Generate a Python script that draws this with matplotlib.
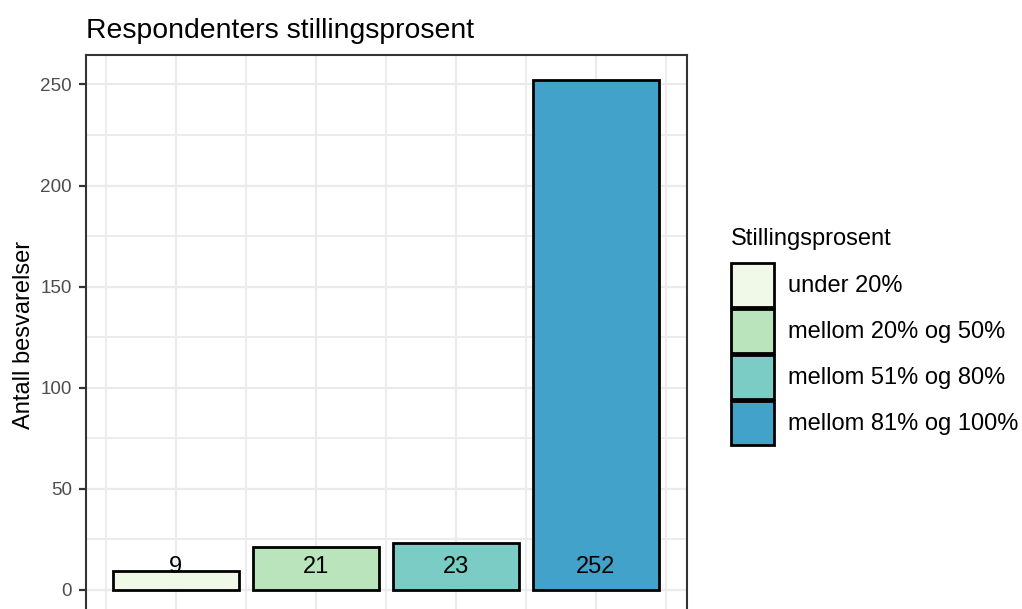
import numpy as np
import matplotlib.pyplot as plt
from matplotlib.ticker import MultipleLocator

categories = ["under 20%", "mellom 20% og 50%", "mellom 51% og 80%", "mellom 81% og 100%"]
counts = [9, 21, 23, 252]
colors = ["#F0F9E8", "#BAE4BC", "#7BCCC4", "#43A2CA"]

plt.rcParams['font.family'] = ['Liberation Sans', 'DejaVu Sans']

fig = plt.figure(figsize=(10.22, 6.09), dpi=100)
ax = fig.add_axes([0.0841, -0.0099, 0.5881, 0.9196])

x = np.arange(1, len(counts) + 1)
bars = ax.bar(x, counts, width=0.9, color=colors, edgecolor='black', linewidth=2.0,
              label=categories, zorder=3)
for xi, c in zip(x, counts):
    ax.text(xi, 11, str(c), ha='center', va='center', fontsize=17, color='black', zorder=4)

ax.set_xlim(0.36, 4.65)
ax.set_ylim(-12.6, 264.6)
ax.yaxis.set_major_locator(MultipleLocator(50))
ax.yaxis.set_minor_locator(MultipleLocator(25))
ax.set_xticks(x)
ax.set_xticks(list(x - 0.5) + [4.5], minor=True)
ax.grid(True, which='major', color='#EBEBEB', linewidth=1.6, zorder=0)
ax.grid(True, which='minor', color='#EBEBEB', linewidth=1.3, zorder=0)
ax.set_axisbelow(True)
ax.tick_params(axis='y', which='major', length=5, width=1.6, color='#333333',
               labelsize=13.6, labelcolor='#4D4D4D', pad=5)
ax.tick_params(axis='both', which='minor', length=0)
ax.tick_params(axis='x', which='major', length=0, labelbottom=False)
for s in ax.spines.values():
    s.set_color('#333333')
    s.set_linewidth(1.5)

ax.set_ylabel('Antall besvarelser', fontsize=17, labelpad=4)
ax.set_title('Respondenters stillingsprosent', loc='left', fontsize=20.4, pad=12)

leg = fig.legend(handles=list(bars), labels=categories, title='Stillingsprosent',
                 loc='upper left', bbox_to_anchor=(0.715, 0.625), frameon=False,
                 fontsize=17, title_fontsize=17, handlelength=1.82, handleheight=2.49,
                 labelspacing=0.08, handletextpad=0.6, borderaxespad=0, borderpad=0)
leg._legend_box.align = 'left'
leg._legend_box.sep = 9

fig.savefig('out.png', dpi=100)
